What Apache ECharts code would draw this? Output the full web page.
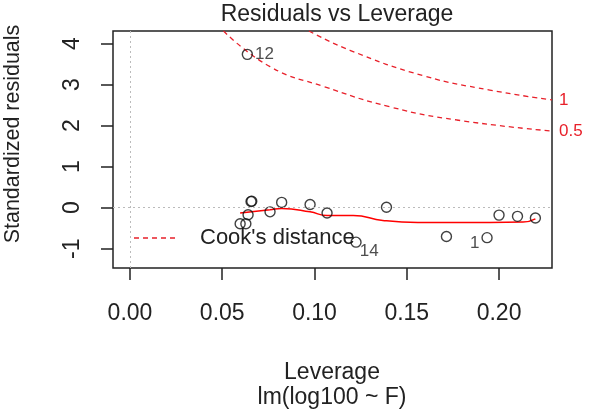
<!DOCTYPE html>
<html>
<head>
<meta charset="utf-8">
<script src="https://cdn.jsdelivr.net/npm/echarts@6/dist/echarts.min.js"></script>
<style>html,body{margin:0;padding:0;background:#fff}#c{width:591px;height:419px}</style>
</head>
<body>
<div id="c"></div>
<script>
// Leverage / standardized residual of each observation (id for labelled points)
var leverage  = [0.0636, 0.0656, 0.0660, 0.0822, 0.0976, 0.139, 0.0640, 0.0759, 0.1068, 0.0597, 0.0628, 0.1715, 0.1935, 0.200, 0.210, 0.2197, 0.1225];
var residuals = [3.74,   0.15,   0.16,   0.13,   0.08,   0.01,  -0.17,  -0.10,  -0.13,  -0.39,  -0.39,  -0.70,  -0.73,  -0.18, -0.21, -0.25,  -0.84];
var pointIds  = ["12",   "",     "",     "",     "",     "",    "",     "",     "",     "",     "",     "",     "1",    "",    "",    "",     "14"];
// loess smoother
var smoothX = [0.0597, 0.0759, 0.0822, 0.0976, 0.1068, 0.121, 0.137, 0.156, 0.195, 0.213, 0.2197];
var smoothY = [-0.13, -0.05, -0.02, -0.10, -0.19, -0.19, -0.31, -0.36, -0.36, -0.35, -0.27];
// Cook's distance contours
var cook05X = [0.0507, 0.0759, 0.1048, 0.1409, 0.177, 0.2287];
var cook05Y = [4.31, 3.44, 2.96, 2.46, 2.14, 1.87];
var cook1X  = [0.097, 0.1192, 0.1589, 0.195, 0.2287];
var cook1Y  = [4.31, 3.84, 3.22, 2.87, 2.63];
var cookLabels = ["0.5", "1"];
var xTicks = [0, 0.05, 0.10, 0.15, 0.20];
var yTicks = [-1, 0, 1, 2, 3, 4];

function zip(a, b) { return a.map(function (v, i) { return [v, b[i]]; }); }

var pts = leverage.map(function (v, i) {
  var d = { value: [v, residuals[i]] };
  if (pointIds[i]) {
    var pos = 'right', off = [0, 0];
    if (pointIds[i] === '1') { pos = 'left'; off = [0, 6]; }
    if (pointIds[i] === '14') { pos = 'right'; off = [-4, 9]; }
    d.label = { show: true, formatter: pointIds[i], position: pos, offset: off, distance: 2,
      fontSize: 17, color: '#222', fontFamily: 'Liberation Sans' };
  }
  return d;
});

function cookSeries(xs, ys, lab) {
  return { type: 'line', data: zip(xs, ys), smooth: true, symbol: 'none', silent: true, clip: false,
    lineStyle: { color: '#e8202a', width: 1.3, type: [5, 4] }, z: 2,
    endLabel: { show: true, formatter: lab, distance: 7, color: '#e8202a', fontSize: 17, fontFamily: 'Liberation Sans' } };
}

var chart = echarts.init(document.getElementById('c'), null, { renderer: 'canvas' });
var font = 'Liberation Sans';
chart.setOption({
  animation: false,
  backgroundColor: '#fff',
  title: { text: 'Residuals vs Leverage', left: 332, top: -2, textAlign: 'center',
    textStyle: { fontFamily: font, fontSize: 23, fontWeight: 'normal', color: '#222' } },
  grid: { left: 113, right: 39, top: 31, bottom: 151, show: true, borderColor: '#222', borderWidth: 1.5, backgroundColor: 'transparent' },
  xAxis: { type: 'value', min: -0.0092, max: 0.2287,
    axisLine: { show: false, onZero: false }, splitLine: { show: false },
    axisTick: { show: true, inside: false, length: 12, customValues: xTicks, lineStyle: { color: '#222', width: 1.5 } },
    axisLabel: { customValues: xTicks, margin: 34, fontFamily: font, fontSize: 23, color: '#222',
      formatter: function (v) { return v.toFixed(2); } } },
  yAxis: { type: 'value', min: -1.47, max: 4.31,
    axisLine: { show: false, onZero: false }, splitLine: { show: false },
    axisTick: { show: true, length: 12, customValues: yTicks, lineStyle: { color: '#222', width: 1.5 } },
    axisLabel: { customValues: yTicks, rotate: 90, margin: 29, fontFamily: font, fontSize: 23, color: '#222' } },
  graphic: [
    { type: 'text', x: 13, y: 134, rotation: Math.PI / 2,
      style: { text: 'Standardized residuals', fontFamily: font, fontSize: 21.5, fill: '#222', align: 'center', verticalAlign: 'middle' } },
    { type: 'text', x: 332, y: 373, style: { text: 'Leverage', fontFamily: font, fontSize: 23, fill: '#222', align: 'center', verticalAlign: 'middle' } },
    { type: 'text', x: 332, y: 398, style: { text: 'lm(log100 ~ F)', fontFamily: font, fontSize: 23, fill: '#222', align: 'center', verticalAlign: 'middle' } },
    { type: 'line', shape: { x1: 134, y1: 238, x2: 178, y2: 238 }, style: { stroke: '#e8202a', lineWidth: 1.3, lineDash: [5, 4] } },
    { type: 'text', x: 200, y: 238, style: { text: "Cook's distance", fontFamily: font, fontSize: 22, fill: '#222', verticalAlign: 'middle' } }
  ],
  series: [
    { type: 'line', data: [], symbol: 'none', silent: true,
      markLine: { symbol: 'none', silent: true, label: { show: false },
        lineStyle: { color: '#bbbbbb', type: [2, 3], width: 1 },
        data: [{ xAxis: 0 }, { yAxis: 0 }] } },
    cookSeries(cook05X, cook05Y, cookLabels[0]),
    cookSeries(cook1X, cook1Y, cookLabels[1]),
    { type: 'line', data: zip(smoothX, smoothY), smooth: true, symbol: 'none', silent: true,
      lineStyle: { color: '#ff0000', width: 1.5 }, z: 3 },
    { type: 'scatter', data: pts, symbol: 'circle', symbolSize: 10, silent: true,
      itemStyle: { color: 'rgba(0,0,0,0)', borderColor: '#111', borderWidth: 1.4 }, z: 4 }
  ]
});
</script>
</body>
</html>
